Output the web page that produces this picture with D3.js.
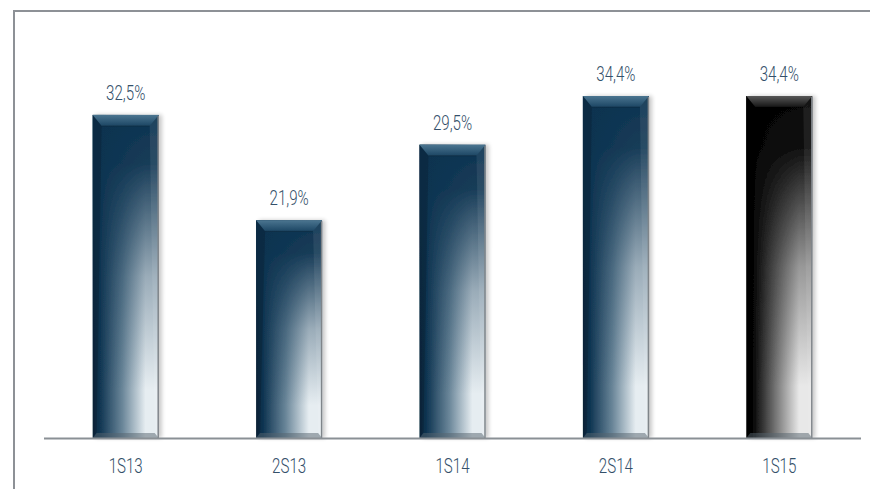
<!DOCTYPE html>
<html>
<head>
<meta charset="utf-8">
<script src="https://cdn.jsdelivr.net/npm/d3@7"></script>
<style>
  html, body { margin: 0; padding: 0; background: #ffffff; }
  svg { display: block; }
  .lbl { font-family: "Roboto", "Open Sans", sans-serif; font-weight: 300; fill: #34506a; }
</style>
</head>
<body>
<svg id="chart" width="870" height="489"></svg>
<script>
// Half-year periods and the ratio for each one (percent)
const categories = ["1S13", "2S13", "1S14", "2S14", "1S15"];
const values = [32.5, 21.9, 29.5, 34.4, 34.4];
const valueLabels = ["32,5%", "21,9%", "29,5%", "34,4%", "34,4%"];
// Colour scheme per bar: earlier periods in navy, the latest in black
const barThemes = ["navy", "navy", "navy", "navy", "black"];

const W = 870, H = 489;
const FONT_SIZE = 21, SQUEEZE = 0.72;   // narrow lettering
const svg = d3.select("#chart");
const defs = svg.append("defs");

const themes = {
  navy: { dark: "#0d3350", mid: "#6a8699", light: "#e6edf1", edge: "#082840",
          bevelTop: "#4b7590", bevelBot: "#1c4664" },
  black: { dark: "#040404", mid: "#777777", light: "#e8e8e8", edge: "#000000",
           bevelTop: "#585858", bevelBot: "#161616" }
};

Object.entries(themes).forEach(([key, t]) => {
  // horizontal sheen: dark on the left, pale on the right
  const h = defs.append("linearGradient").attr("id", "h-" + key)
    .attr("x1", 0).attr("y1", 0).attr("x2", 1).attr("y2", 0);
  [[0, t.edge], [0.1, t.dark], [0.45, t.mid], [0.8, t.light], [1, t.light]]
    .forEach(([o, c]) => h.append("stop").attr("offset", o).attr("stop-color", c));
  // vertical overlay keeping the upper part dark
  const v = defs.append("linearGradient").attr("id", "v-" + key)
    .attr("x1", 0).attr("y1", 0).attr("x2", 0).attr("y2", 1);
  [[0, 1], [0.15, 0.95], [0.5, 0.35], [0.85, 0], [1, 0]]
    .forEach(([o, a]) => v.append("stop").attr("offset", o)
      .attr("stop-color", t.dark).attr("stop-opacity", a));
  // top bevel
  const b = defs.append("linearGradient").attr("id", "b-" + key)
    .attr("x1", 0).attr("y1", 0).attr("x2", 0).attr("y2", 1);
  b.append("stop").attr("offset", 0).attr("stop-color", t.bevelTop);
  b.append("stop").attr("offset", 1).attr("stop-color", t.bevelBot);
});

// soft shadow to the right of each bar
const f = defs.append("filter").attr("id", "shadow")
  .attr("x", "-20%").attr("y", "-5%").attr("width", "150%").attr("height", "110%");
f.append("feGaussianBlur").attr("in", "SourceAlpha").attr("stdDeviation", 2);
f.append("feOffset").attr("dx", 3).attr("dy", 0).attr("result", "o");
f.append("feComponentTransfer").append("feFuncA").attr("type", "linear").attr("slope", 0.22);
const m = f.append("feMerge");
m.append("feMergeNode");
m.append("feMergeNode").attr("in", "SourceGraphic");

// frame lines
svg.append("line").attr("x1", 14).attr("x2", W).attr("y1", 11).attr("y2", 11)
  .attr("stroke", "#8d9196").attr("stroke-width", 2);
svg.append("line").attr("x1", 14).attr("x2", 14).attr("y1", 10).attr("y2", H)
  .attr("stroke", "#8d9196").attr("stroke-width", 2);

const x = d3.scaleBand().domain(categories).range([44, 861])
  .paddingInner(0.596).paddingOuter(0.298);
const y = d3.scaleLinear().domain([0, 34.4]).range([438, 96]);

const data = categories.map((c, i) => ({ cat: c, v: values[i], label: valueLabels[i], theme: barThemes[i] }));

const bars = svg.append("g").selectAll("g").data(data).join("g")
  .attr("transform", d => `translate(${x(d.cat)},${y(d.v)})`);

const bw = x.bandwidth();
const bh = d => y(0) - y(d.v);

const shell = bars.append("g").attr("filter", "url(#shadow)");
shell.append("rect").attr("width", bw).attr("height", bh)
  .attr("fill", d => `url(#h-${d.theme})`);
shell.append("rect").attr("width", bw).attr("height", bh)
  .attr("fill", d => `url(#v-${d.theme})`);

// bevelled top face
bars.append("path")
  .attr("d", `M0,0 L${bw},0 L${bw - 9},11 L9,11 Z`)
  .attr("fill", d => `url(#b-${d.theme})`);
bars.append("path")
  .attr("d", `M9,11 L${bw - 9},11`)
  .attr("stroke", "#000").attr("stroke-opacity", 0.2).attr("stroke-width", 1);
// thin side bevels
bars.append("path")
  .attr("d", d => `M0,0 L9,11 L4,${bh(d) - 6} L0,${bh(d)} Z`)
  .attr("fill", "#000").attr("fill-opacity", 0.15);
bars.append("path")
  .attr("d", d => `M${bw},0 L${bw - 9},11 L${bw - 4},${bh(d) - 6} L${bw},${bh(d)} Z`)
  .attr("fill", "#ffffff").attr("fill-opacity", 0.08);
// bottom bevel
bars.append("path")
  .attr("d", d => `M0,${bh(d)} L${bw},${bh(d)} L${bw - 4},${bh(d) - 5} L4,${bh(d) - 5} Z`)
  .attr("fill", "#55636e").attr("fill-opacity", 0.5);
// right edge line
bars.append("line").attr("x1", bw - 0.5).attr("x2", bw - 0.5).attr("y1", 1).attr("y2", bh)
  .attr("stroke", "#7f858a").attr("stroke-width", 1.5);

// value labels
bars.append("text").attr("class", "lbl")
  .attr("transform", `translate(${bw / 2},-15) scale(${SQUEEZE},1)`)
  .attr("text-anchor", "middle").attr("font-size", FONT_SIZE)
  .text(d => d.label);

// category axis
const axis = svg.append("g").attr("transform", "translate(0,438.5)")
  .call(d3.axisBottom(x).tickSize(0).tickPadding(0));
axis.select(".domain").attr("stroke", "#8a9095").attr("stroke-width", 2)
  .attr("d", "M44,0H861");
axis.selectAll(".tick text").attr("class", "lbl").attr("font-size", FONT_SIZE)
  .attr("y", 0).attr("dy", 0)
  .attr("transform", `translate(0,34.5) scale(${SQUEEZE},1)`)
  .attr("fill", "#34506a");
</script>
</body>
</html>
